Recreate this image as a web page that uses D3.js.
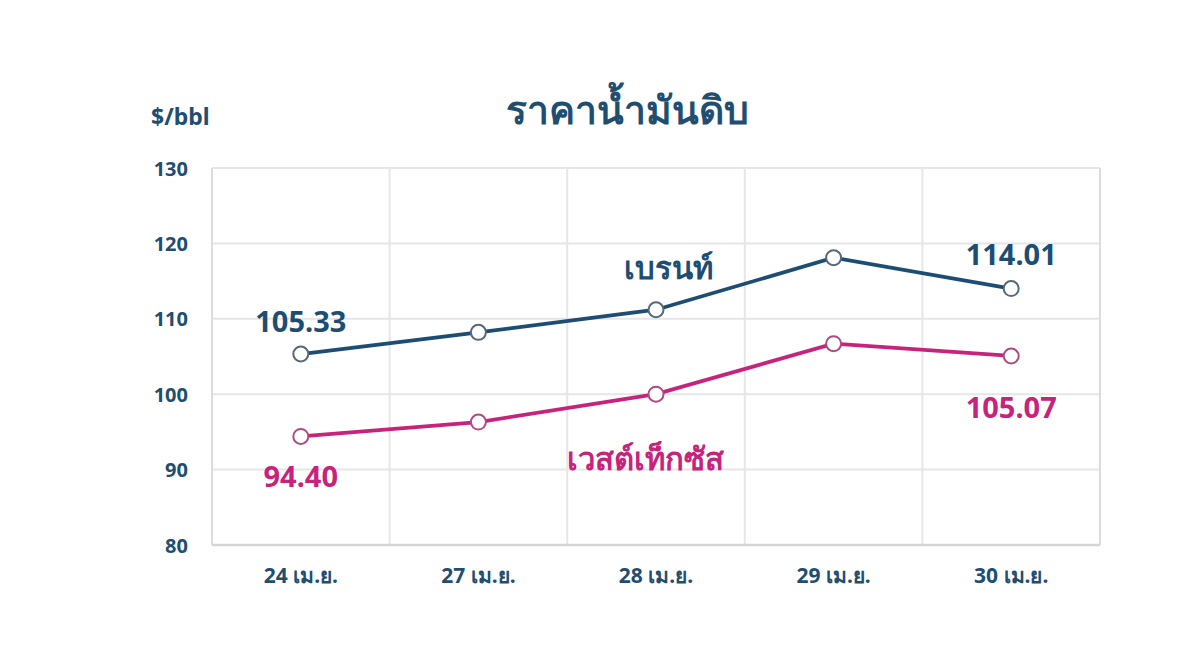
<!DOCTYPE html>
<html><head><meta charset="utf-8">
<script src="https://cdn.jsdelivr.net/npm/d3@7"></script>
<style>
body{margin:0;background:#fff;}
text{font-family:"Noto Sans","Open Sans",sans-serif;}
</style></head>
<body><svg id="c" width="1200" height="647"></svg>
<script>
const categories = ["24 เม.ย.","27 เม.ย.","28 เม.ย.","29 เม.ย.","30 เม.ย."];
const brent = [105.33,108.2,111.2,118.1,114.01];
const wti = [94.40,96.3,100.0,106.7,105.07];
const yTicks = [80,90,100,110,120,130];
const title = "ราคาน้ำมันดิบ";
const unit = "$/bbl";
const brentName = "เบรนท์";
const wtiName = "เวสต์เท็กซัส";

const svg = d3.select("#c");
const m = {l:212, r:1100, t:168, b:545};
const x = d3.scaleBand().domain(categories).range([m.l,m.r]);
const y = d3.scaleLinear().domain([80,130]).range([m.b,m.t]);
const txt = "#1f4e70";
const blue = "#1d4d72", pink = "#c8237c";

// grid
const g = svg.append("g");
g.selectAll(".hg").data(yTicks).join("line")
 .attr("x1",m.l).attr("x2",m.r).attr("y1",d=>y(d)).attr("y2",d=>y(d))
 .attr("stroke","#e6e6e6").attr("stroke-width",2);
const edges = categories.map(c=>x(c)).concat([m.r]);
g.selectAll(".vg").data(edges).join("line")
 .attr("x1",d=>d).attr("x2",d=>d).attr("y1",m.t).attr("y2",m.b)
 .attr("stroke",(d,i)=> (i===0||i===edges.length-1)?"#dcdcdc":"#e6e6e6").attr("stroke-width",2);
g.append("line").attr("x1",m.l).attr("x2",m.r).attr("y1",m.b).attr("y2",m.b).attr("stroke","#d6d6d6").attr("stroke-width",2.5);

// y axis labels
const ya = svg.append("g").attr("transform",`translate(${m.l-24},0)`)
 .call(d3.axisLeft(y).tickValues(yTicks).tickSize(0).tickPadding(0));
ya.select(".domain").remove();
ya.selectAll("text").attr("fill",txt).attr("font-size",20).attr("font-weight",700).attr("dy","0.35em").attr("font-family","Roboto, 'Noto Sans', sans-serif");

// x axis labels
const xa = svg.append("g").attr("transform",`translate(0,${m.b+21})`)
 .call(d3.axisBottom(x).tickSize(0).tickPadding(0));
xa.select(".domain").remove();
xa.selectAll("text").attr("fill",txt).attr("font-size",21).attr("font-weight",700).attr("dy","0.8em")
 .attr("font-family","Roboto Condensed, 'Liberation Sans Narrow', Roboto, sans-serif");

// title
svg.append("text").attr("x",627).attr("y",124).attr("text-anchor","middle")
 .attr("fill",txt).attr("font-size",39).attr("font-weight",700).text(title);
svg.append("text").attr("x",151).attr("y",125).attr("fill",txt).attr("font-size",23).attr("font-weight",700).text(unit);

const cx = d=>x(d)+x.bandwidth()/2;
const line = d3.line().x((d,i)=>cx(categories[i])).y(d=>y(d));
function series(vals,col,mk){
  svg.append("path").datum(vals).attr("d",line).attr("fill","none").attr("stroke",col).attr("stroke-width",3.8);
  svg.selectAll(null).data(vals).join("circle").attr("cx",(d,i)=>cx(categories[i])).attr("cy",d=>y(d))
   .attr("r",7.5).attr("fill","#fff").attr("stroke",mk).attr("stroke-width",2);
}
series(brent,blue,"#55697a");
series(wti,pink,"#b04a82");

const lab = (t,xx,yy,col,fs)=>svg.append("text").attr("x",xx).attr("y",yy).attr("text-anchor","middle")
  .attr("fill",col).attr("font-size",fs).attr("font-weight",700).attr("font-family","Roboto, 'Noto Sans', sans-serif").text(t);
const n = categories.length-1;
lab(brent[0].toFixed(2), cx(categories[0]), y(brent[0])-22, blue, 29);
lab(brent[n].toFixed(2), cx(categories[n]), y(brent[n])-24, blue, 29);
lab(wti[0].toFixed(2), cx(categories[0]), y(wti[0])+51, pink, 29);
lab(wti[n].toFixed(2), cx(categories[n]), y(wti[n])+62, pink, 29);
svg.append("text").attr("x",cx(categories[2])+12).attr("y",y(115.3)).attr("text-anchor","middle")
 .attr("fill",blue).attr("font-size",31).attr("font-weight",700).text(brentName);
svg.append("text").attr("x",(cx(categories[1])+cx(categories[2]))/2+78).attr("y",y(89.9)).attr("text-anchor","middle")
 .attr("fill",pink).attr("font-size",31).attr("font-weight",700).text(wtiName);
</script></body></html>
